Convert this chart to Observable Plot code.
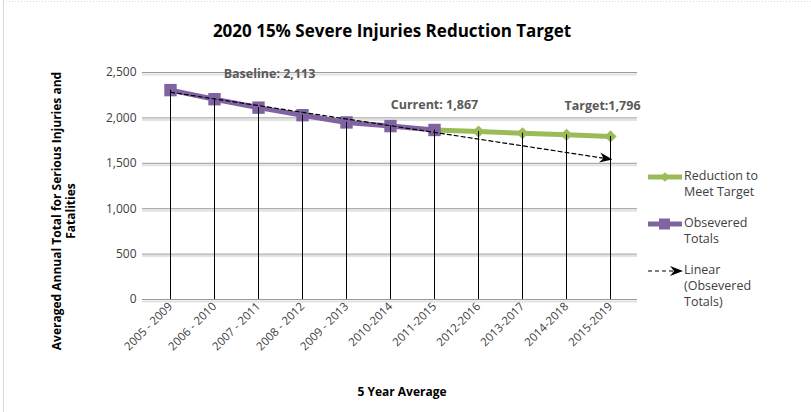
<!DOCTYPE html>
<html><head><meta charset="utf-8">
<script src="https://cdn.jsdelivr.net/npm/d3@7"></script>
<script src="https://cdn.jsdelivr.net/npm/@observablehq/plot@0.6"></script>
<style>
body{margin:0;background:#fff;}
#wrap{position:relative;width:811px;height:412px;overflow:hidden;background:#fff;}
#wrap svg{position:absolute;left:0;top:0;}
</style></head><body>
<div id="wrap"></div>
<script>
const FONT = "'Open Sans', Lato, sans-serif";

// ---- data ----
const periods = ["2005 - 2009","2006 - 2010","2007 - 2011","2008 - 2012","2009 - 2013","2010-2014","2011-2015","2012-2016","2013-2017","2014-2018","2015-2019"];
const observedPeriods = ["2005 - 2009","2006 - 2010","2007 - 2011","2008 - 2012","2009 - 2013","2010-2014","2011-2015"];
const observedValues = [2306, 2206, 2113, 2030, 1950, 1910, 1867];
const targetPeriods = ["2011-2015","2012-2016","2013-2017","2014-2018","2015-2019"];
const targetValues = [1867, 1849, 1831, 1814, 1796];
const trendPeriods = ["2005 - 2009","2015-2019"];
const trendValues = [2283, 1545];
const yTicks = [0, 500, 1000, 1500, 2000, 2500];
const labelTexts = ["Baseline: 2,113", "Current: 1,867", "Target:1,796"];
const labelPeriods = ["2007 - 2011", "2011-2015", "2015-2019"];
const labelValues = [2113, 1867, 1796];
const legendLabels = [["Reduction to","Meet Target"],["Obsevered","Totals"],["Linear","(Obsevered","Totals)"]];

const observed = observedPeriods.map((p,i)=>({period:p, value:observedValues[i]}));
const target = targetPeriods.map((p,i)=>({period:p, value:targetValues[i]}));
const trend = trendPeriods.map((p,i)=>({period:p, value:trendValues[i]}));
const drops = periods.map(p => {
  const oi = observedPeriods.indexOf(p);
  return {period:p, value: oi >= 0 ? observedValues[oi] : targetValues[targetPeriods.indexOf(p)]};
});
const labels = labelTexts.map((t,i)=>({text:t, period:labelPeriods[i], value:labelValues[i]}));

const PURPLE = "#8064A2", GREEN = "#9BBB59";

function stealth(color, context){
  const doc = context && context.document ? context.document : document;
  const m = doc.createElementNS("http://www.w3.org/2000/svg","marker");
  m.setAttribute("viewBox","-11 -6 13 12");
  m.setAttribute("markerWidth","13");
  m.setAttribute("markerHeight","12");
  m.setAttribute("markerUnits","userSpaceOnUse");
  m.setAttribute("orient","auto");
  m.setAttribute("refX","0");
  m.setAttribute("refY","0");
  const p = doc.createElementNS("http://www.w3.org/2000/svg","path");
  p.setAttribute("d","M-11,-5L2,0L-11,5L-7,0Z");
  p.setAttribute("fill", color);
  p.setAttribute("stroke","none");
  m.appendChild(p);
  return m;
}

const chart = Plot.plot({
  width: 811, height: 412,
  marginLeft: 142, marginRight: 174, marginTop: 72, marginBottom: 113,
  style: {fontFamily: FONT, color: "#404040", background: "transparent", fontSize: "11px"},
  x: {type: "point", domain: periods, padding: 0.56, label: null, tickRotate: -45, tickSize: 0, tickPadding: 5},
  y: {domain: [0, 2500], ticks: yTicks, tickFormat: d3.format(",d"), label: null, tickSize: 0, tickPadding: 6},
  marks: [
    Plot.ruleY(yTicks, {stroke: "#e2e2e2", strokeWidth: 2, dy: 2}),
    Plot.ruleY(yTicks, {stroke: "#9a9a9a", strokeWidth: 1}),
    Plot.line(target, {x: "period", y: "value", stroke: GREEN, strokeWidth: 5}),
    Plot.dot(target.slice(1), {x: "period", y: "value", symbol: "diamond2", r: 5.5, fill: GREEN}),
    Plot.line(observed, {x: "period", y: "value", stroke: PURPLE, strokeWidth: 5}),
    Plot.dot(observed, {x: "period", y: "value", symbol: "square", r: 7, fill: PURPLE}),
    Plot.ruleX(drops, {x: "period", y1: 0, y2: "value", stroke: "#000", strokeWidth: 1}),
    Plot.line(trend, {x: "period", y: "value", stroke: "#000", strokeWidth: 1.2, strokeDasharray: "4,3", markerEnd: stealth}),
    Plot.text(labels.slice(0,1), {x: "period", y: "value", text: "text", dx: 11, dy: -34, fontSize: 12.5, fontWeight: "bold", fill: "#595959"}),
    Plot.text(labels.slice(1,2), {x: "period", y: "value", text: "text", dx: 0, dy: -25, fontSize: 12.5, fontWeight: "bold", fill: "#595959"}),
    Plot.text(labels.slice(2,3), {x: "period", y: "value", text: "text", dx: -8, dy: -30, fontSize: 12.5, fontWeight: "bold", fill: "#595959"})
  ]
});
d3.select(chart).selectAll("g[aria-label='y-axis tick label']").attr("font-size", 12);
d3.select(chart).selectAll("g[aria-label='x-axis tick label']").attr("font-size", 11.5);
document.getElementById("wrap").appendChild(chart);

// ---- overlay: title, axis titles, legend, frame ----
const ov = d3.select("#wrap").append("svg").attr("width", 811).attr("height", 412)
  .style("font-family", FONT).style("pointer-events", "none");

ov.append("line").attr("x1", 3.5).attr("x2", 3.5).attr("y1", 0).attr("y2", 412).attr("stroke", "#d9d9d9");
ov.append("line").attr("x1", 3).attr("x2", 811).attr("y1", 1.5).attr("y2", 1.5).attr("stroke", "#d9d9d9").attr("stroke-dasharray", "1,2");

ov.append("text").attr("x", 392).attr("y", 32).attr("text-anchor", "middle").attr("dominant-baseline", "middle")
  .attr("font-size", 17).attr("font-weight", "bold").attr("fill", "#000")
  .text("2020 15% Severe Injuries Reduction Target");

ov.append("text").attr("x", 402).attr("y", 393).attr("text-anchor", "middle").attr("dominant-baseline", "middle")
  .attr("font-size", 12).attr("font-weight", "bold").attr("fill", "#000").text("5 Year Average");

const yl = ov.append("g").attr("transform", "translate(58,211) rotate(-90)");
yl.append("text").attr("x", 0).attr("y", 0).attr("text-anchor", "middle").attr("dominant-baseline", "middle")
  .attr("font-size", 12).attr("font-weight", "bold").attr("fill", "#000").text("Averaged Annual Total for Serious Injuries and");
yl.append("text").attr("x", 0).attr("y", 14).attr("text-anchor", "middle").attr("dominant-baseline", "middle")
  .attr("font-size", 12).attr("font-weight", "bold").attr("fill", "#000").text("Fatalities");

// legend
const legY = [177, 224, 271];
const lg = ov.append("g");
lg.append("line").attr("x1", 648).attr("x2", 682).attr("y1", legY[0]).attr("y2", legY[0]).attr("stroke", GREEN).attr("stroke-width", 5);
lg.append("path").attr("d", d3.symbol(d3.symbolDiamond2, 60)()).attr("transform", `translate(665,${legY[0]})`).attr("fill", GREEN);
lg.append("line").attr("x1", 648).attr("x2", 682).attr("y1", legY[1]).attr("y2", legY[1]).attr("stroke", PURPLE).attr("stroke-width", 5);
lg.append("rect").attr("x", 659).attr("y", legY[1] - 5.5).attr("width", 11).attr("height", 11).attr("fill", PURPLE);
lg.append("line").attr("x1", 648).attr("x2", 674).attr("y1", legY[2]).attr("y2", legY[2]).attr("stroke", "#000").attr("stroke-width", 1.2).attr("stroke-dasharray", "4,3");
lg.append("path").attr("d", "M-11,-5L2,0L-11,5L-7,0Z").attr("transform", `translate(681,${legY[2]})`).attr("fill", "#000");
legendLabels.forEach((lines, i) => {
  lines.forEach((t, j) => {
    lg.append("text").attr("x", 684).attr("y", legY[i] + j * 16).attr("dominant-baseline", "middle")
      .attr("font-size", 12.5).attr("fill", "#404040").text(t);
  });
});
</script>
</body></html>
